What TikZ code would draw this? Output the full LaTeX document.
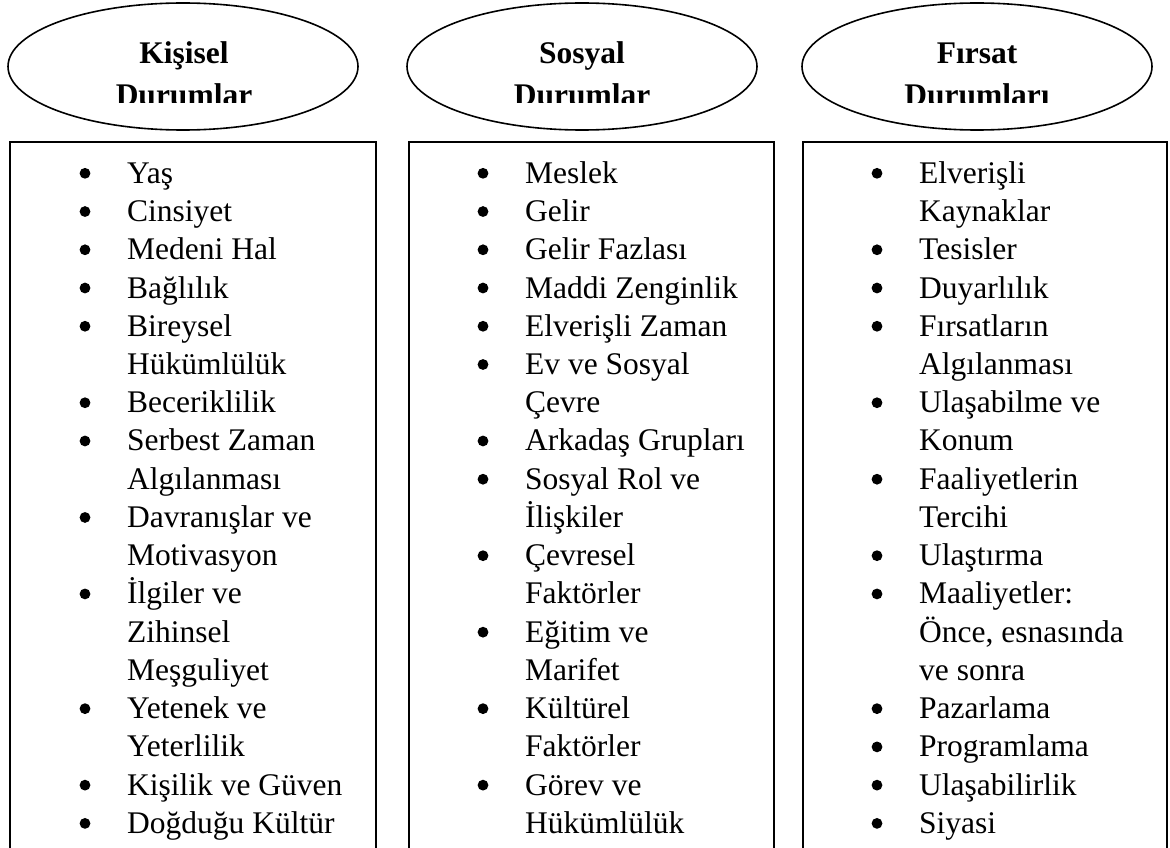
\documentclass[tikz,border=0pt]{standalone}
\usepackage{fontspec}
\setmainfont{Liberation Serif}
\usetikzlibrary{shapes.geometric}
\tikzset{
  head/.style={draw=black, line width=1.6pt, ellipse, minimum width=350pt, minimum height=127pt, inner sep=0pt},
  col/.style={draw=black, line width=2pt, rectangle, inner sep=0pt, anchor=north west},
  itemtxt/.style={anchor=base west, inner sep=0pt, font=\fontsize{31.5}{38}\selectfont},
  titletxt/.style={anchor=base, inner sep=0pt, font=\fontsize{31.5}{38}\selectfont\bfseries},
  dot/.style={fill=black},
}
\newcommand{\Bline}[4]{% #1 col name, #2 text x, #3 row, #4 text
  \node[itemtxt] (#1r#3) at (#2,{183.3+38.24*#3}) {#4};
  \fill[dot] ({#2-42},{173.3+38.24*#3}) circle (5.4pt);}
\newcommand{\Pline}[4]{%
  \node[itemtxt] (#1r#3) at (#2,{183.3+38.24*#3}) {#4};}
\begin{document}
\begin{tikzpicture}[x=1pt,y=-1pt]
\clip (0,0) rectangle (1170,848);
\fill[white] (0,0) rectangle (1170,848);
% heads
\node[head] (h1) at (183,66.5) {};
\node[head] (h2) at (582,66.5) {};
\node[head] (h3) at (977,66.5) {};
\node[titletxt] (t1) at (184,63.3) {Kişisel};
\node[titletxt] (t2) at (582,63.3) {Sosyal};
\node[titletxt] (t3) at (977,63.3) {Fırsat};
\begin{scope}
\clip (0,0) rectangle (1170,102.7);
\node[titletxt] (u1) at (184,106) {Durumlar};
\node[titletxt] (u2) at (582,106) {Durumlar};
\node[titletxt] (u3) at (977,106) {Durumları};
\end{scope}
% boxes
\node[col, minimum width=366pt, minimum height=760pt] (b1) at (9,141) {};
\node[col, minimum width=365pt, minimum height=760pt] (b2) at (408,141) {};
\node[col, minimum width=364pt, minimum height=760pt] (b3) at (802,141) {};
% column 1
\Bline{a}{127}{0}{Yaş}
\Bline{a}{127}{1}{Cinsiyet}
\Bline{a}{127}{2}{Medeni Hal}
\Bline{a}{127}{3}{Bağlılık}
\Bline{a}{127}{4}{Bireysel}
\Pline{a}{127}{5}{Hükümlülük}
\Bline{a}{127}{6}{Beceriklilik}
\Bline{a}{127}{7}{Serbest Zaman}
\Pline{a}{127}{8}{Algılanması}
\Bline{a}{127}{9}{Davranışlar ve}
\Pline{a}{127}{10}{Motivasyon}
\Bline{a}{127}{11}{İlgiler ve}
\Pline{a}{127}{12}{Zihinsel}
\Pline{a}{127}{13}{Meşguliyet}
\Bline{a}{127}{14}{Yetenek ve}
\Pline{a}{127}{15}{Yeterlilik}
\Bline{a}{127}{16}{Kişilik ve Güven}
\Bline{a}{127}{17}{Doğduğu Kültür}
% column 2
\Bline{b}{525}{0}{Meslek}
\Bline{b}{525}{1}{Gelir}
\Bline{b}{525}{2}{Gelir Fazlası}
\Bline{b}{525}{3}{Maddi Zenginlik}
\Bline{b}{525}{4}{Elverişli Zaman}
\Bline{b}{525}{5}{Ev ve Sosyal}
\Pline{b}{525}{6}{Çevre}
\Bline{b}{525}{7}{Arkadaş Grupları}
\Bline{b}{525}{8}{Sosyal Rol ve}
\Pline{b}{525}{9}{İlişkiler}
\Bline{b}{525}{10}{Çevresel}
\Pline{b}{525}{11}{Faktörler}
\Bline{b}{525}{12}{Eğitim ve}
\Pline{b}{525}{13}{Marifet}
\Bline{b}{525}{14}{Kültürel}
\Pline{b}{525}{15}{Faktörler}
\Bline{b}{525}{16}{Görev ve}
\Pline{b}{525}{17}{Hükümlülük}
% column 3
\Bline{c}{919}{0}{Elverişli}
\Pline{c}{919}{1}{Kaynaklar}
\Bline{c}{919}{2}{Tesisler}
\Bline{c}{919}{3}{Duyarlılık}
\Bline{c}{919}{4}{Fırsatların}
\Pline{c}{919}{5}{Algılanması}
\Bline{c}{919}{6}{Ulaşabilme ve}
\Pline{c}{919}{7}{Konum}
\Bline{c}{919}{8}{Faaliyetlerin}
\Pline{c}{919}{9}{Tercihi}
\Bline{c}{919}{10}{Ulaştırma}
\Bline{c}{919}{11}{Maaliyetler:}
\Pline{c}{919}{12}{Önce, esnasında}
\Pline{c}{919}{13}{ve sonra}
\Bline{c}{919}{14}{Pazarlama}
\Bline{c}{919}{15}{Programlama}
\Bline{c}{919}{16}{Ulaşabilirlik}
\Bline{c}{919}{17}{Siyasi}
\end{tikzpicture}
\end{document}
